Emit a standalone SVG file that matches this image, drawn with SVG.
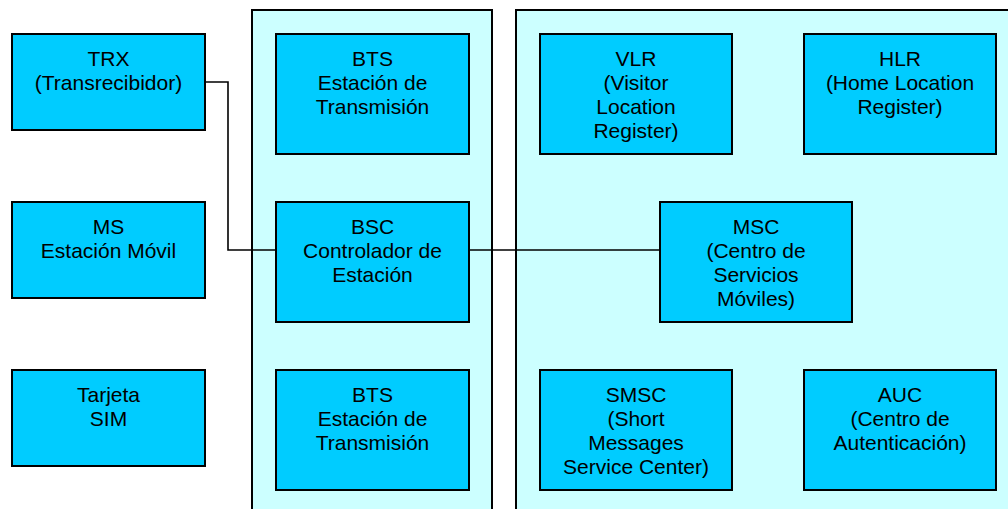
<svg xmlns="http://www.w3.org/2000/svg" width="1008" height="509" viewBox="0 0 1008 509">
  <style>
    .zone { fill: #CCFFFF; stroke: #000; stroke-width: 2; }
    .box { fill: #00CCFF; stroke: #000; stroke-width: 2; }
    .lbl { font-family: "Liberation Sans", Arial, sans-serif; font-size: 21px; fill: #000; text-anchor: middle; }
    .wire { fill: none; stroke: #000; stroke-width: 1.6; }
  </style>
  <rect width="1008" height="509" fill="#FFFFFF"/>

  <!-- Subsystem areas -->
  <g id="zone-bss">
    <rect class="zone" x="252" y="10" width="240" height="520"/>
  </g>
  <g id="zone-nss">
    <rect class="zone" x="516" y="10" width="520" height="520"/>
  </g>

  <!-- Links -->
  <g id="connectors">
    <polyline class="wire" points="205,82 228,82 228,250 276,250"/>
    <line class="wire" x1="469" y1="250" x2="660" y2="250"/>
  </g>

  <!-- Mobile station side -->
  <g id="trx">
    <rect class="box" x="12" y="34" width="193" height="96"/>
    <text class="lbl" x="108.5" y="66">TRX</text>
    <text class="lbl" x="108.5" y="90">(Transrecibidor)</text>
  </g>
  <g id="ms">
    <rect class="box" x="12" y="202" width="193" height="96"/>
    <text class="lbl" x="108.5" y="234">MS</text>
    <text class="lbl" x="108.5" y="258">Estación Móvil</text>
  </g>
  <g id="sim">
    <rect class="box" x="12" y="370" width="193" height="96"/>
    <text class="lbl" x="108.5" y="402">Tarjeta</text>
    <text class="lbl" x="108.5" y="426">SIM</text>
  </g>

  <!-- Base station subsystem -->
  <g id="bts-top">
    <rect class="box" x="276" y="34" width="193" height="120"/>
    <text class="lbl" x="372.5" y="66">BTS</text>
    <text class="lbl" x="372.5" y="90">Estación de</text>
    <text class="lbl" x="372.5" y="114">Transmisión</text>
  </g>
  <g id="bsc">
    <rect class="box" x="276" y="202" width="193" height="120"/>
    <text class="lbl" x="372.5" y="234">BSC</text>
    <text class="lbl" x="372.5" y="258">Controlador de</text>
    <text class="lbl" x="372.5" y="282">Estación</text>
  </g>
  <g id="bts-bottom">
    <rect class="box" x="276" y="370" width="193" height="120"/>
    <text class="lbl" x="372.5" y="402">BTS</text>
    <text class="lbl" x="372.5" y="426">Estación de</text>
    <text class="lbl" x="372.5" y="450">Transmisión</text>
  </g>

  <!-- Network switching subsystem -->
  <g id="vlr">
    <rect class="box" x="540" y="34" width="192" height="120"/>
    <text class="lbl" x="636" y="66">VLR</text>
    <text class="lbl" x="636" y="90">(Visitor</text>
    <text class="lbl" x="636" y="114">Location</text>
    <text class="lbl" x="636" y="138">Register)</text>
  </g>
  <g id="hlr">
    <rect class="box" x="804" y="34" width="192" height="120"/>
    <text class="lbl" x="900" y="66">HLR</text>
    <text class="lbl" x="900" y="90">(Home Location</text>
    <text class="lbl" x="900" y="114">Register)</text>
  </g>
  <g id="msc">
    <rect class="box" x="660" y="202" width="192" height="120"/>
    <text class="lbl" x="756" y="234">MSC</text>
    <text class="lbl" x="756" y="258">(Centro de</text>
    <text class="lbl" x="756" y="282">Servicios</text>
    <text class="lbl" x="756" y="306">Móviles)</text>
  </g>
  <g id="smsc">
    <rect class="box" x="540" y="370" width="192" height="120"/>
    <text class="lbl" x="636" y="402">SMSC</text>
    <text class="lbl" x="636" y="426">(Short</text>
    <text class="lbl" x="636" y="450">Messages</text>
    <text class="lbl" x="636" y="474">Service Center)</text>
  </g>
  <g id="auc">
    <rect class="box" x="804" y="370" width="192" height="120"/>
    <text class="lbl" x="900" y="402">AUC</text>
    <text class="lbl" x="900" y="426">(Centro de</text>
    <text class="lbl" x="900" y="450">Autenticación)</text>
  </g>
</svg>
